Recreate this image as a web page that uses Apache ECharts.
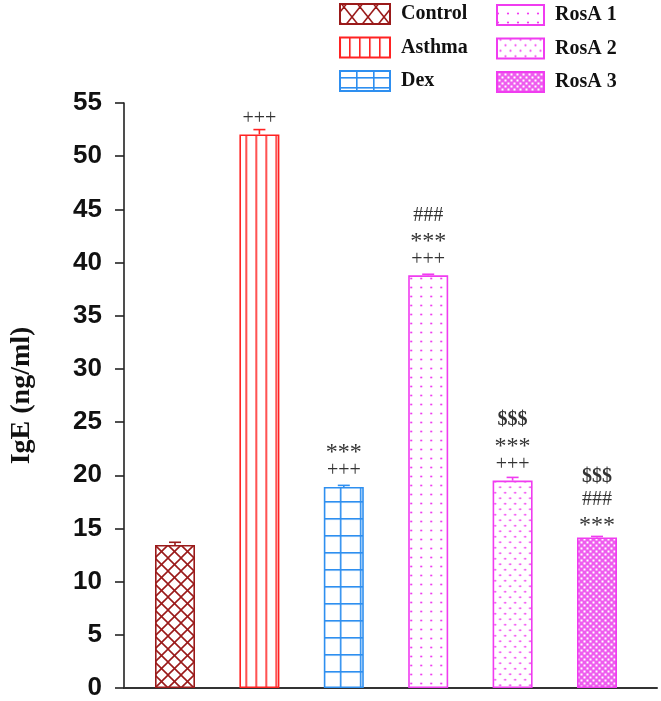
<!DOCTYPE html>
<html><head><meta charset="utf-8">
<script src="https://cdn.jsdelivr.net/npm/echarts@6/dist/echarts.min.js"></script>
<style>html,body{margin:0;padding:0;background:#fff}#c{width:661px;height:701px}</style>
</head><body><div id="c"></div>
<script>
// ---- data ----
const categories = ['Control', 'Asthma', 'Dex', 'RosA 1', 'RosA 2', 'RosA 3'];
const values = [13.45, 52.05, 18.9, 38.8, 19.5, 14.15];
const errors = [0.25, 0.45, 0.15, 0.1, 0.3, 0.1];
const annotations = ['', '+++', '***\n+++', '###\n***\n+++', '$$$\n***\n+++', '$$$\n###\n***'];
const yMin = 0, yMax = 55, yStep = 5;
const yTitle = 'IgE (ng/ml)';

// ---- styles ----
const colors = ['#9a1a1a', '#ff2222', '#2e8ff0', '#f03cf0', '#f03cf0', '#f03cf0'];

function tile(w, h, draw) {
  const c = document.createElement('canvas'); c.width = w; c.height = h;
  const g = c.getContext('2d'); draw(g, w, h); return c;
}
function crossTile(col, w, h) {
  return tile(w, h, (g) => {
    g.strokeStyle = col; g.lineWidth = 1.6;
    for (const dx of [-w, 0, w]) {
      g.beginPath(); g.moveTo(dx, 0); g.lineTo(dx + w, h); g.stroke();
      g.beginPath(); g.moveTo(dx + w, 0); g.lineTo(dx, h); g.stroke();
    }
  });
}
function vlineTile(col, w) {
  return tile(w, 4, (g) => { g.fillStyle = col; g.fillRect(0, 0, 1.6, 4); });
}
function gridTile(col, w, h) {
  return tile(w, h, (g) => { g.fillStyle = col; g.fillRect(0, 0, 1.6, h); g.fillRect(0, 0, w, 1.6); });
}
function dotTile(col, w, h, pts, r) {
  return tile(w, h, (g) => {
    g.fillStyle = col;
    pts.forEach(p => { g.beginPath(); g.arc(p[0], p[1], r, 0, Math.PI * 2); g.fill(); });
  });
}
function checkTile(col) {
  return tile(6, 6, (g) => {
    g.fillStyle = col; g.fillRect(0, 0, 6, 6);
    g.fillStyle = '#ffffff'; g.fillRect(0.5, 0.5, 2, 2); g.fillRect(3.5, 3.5, 2, 2);
  });
}
function pat(img, x, y) { return { image: img, repeat: 'repeat', x: x, y: y }; }

const chart = echarts.init(document.getElementById('c'), null, { renderer: 'canvas' });

const gridTop = 103, gridH = 585;

function styleLine(s) {
  if (s[0] === '$') return '{d|' + s + '}';
  if (s[0] === '*') return '{a|' + s + '}';
  return '{n|' + s + '}';
}

function build(barPatterns, legendPatterns) {
  const series = categories.map((name, i) => ({
    name: name,
    type: 'bar',
    xAxisIndex: 1, yAxisIndex: 1,
    barWidth: 40, barGap: '-100%',
    data: categories.map((c, j) => j === i ? values[j] : '-'),
    itemStyle: { color: barPatterns ? barPatterns[i] : '#fff', borderColor: colors[i], borderWidth: 1.6 },
    label: {
      show: annotations[i] !== '', position: 'top', distance: 5,
      formatter: () => annotations[i].split('\n').map(styleLine).join('\n'),
      rich: {
        n: { fontFamily: 'Liberation Serif', fontSize: 20, color: '#333', lineHeight: 22 },
        a: { fontFamily: 'Liberation Serif', fontSize: 24, color: '#333', lineHeight: 22, padding: [8, 0, 0, 0] },
        d: { fontFamily: 'Liberation Serif', fontSize: 20, fontWeight: 'bold', color: '#333', lineHeight: 24 }
      }
    },
    z: 3
  }));
  series.push({
    type: 'custom', xAxisIndex: 1, yAxisIndex: 1, z: 4,
    data: categories.map((c, i) => [i, values[i], errors[i]]),
    renderItem: (params, api) => {
      const i = api.value(0), v = api.value(1), e = api.value(2);
      const p0 = api.coord([i, v]), p1 = api.coord([i, v + e]);
      const st = { stroke: colors[params.dataIndex], lineWidth: 1.6 };
      return { type: 'group', children: [
        { type: 'line', shape: { x1: p0[0], y1: p0[1], x2: p1[0], y2: p1[1] }, style: st },
        { type: 'line', shape: { x1: p1[0] - 6, y1: p1[1], x2: p1[0] + 6, y2: p1[1] }, style: st }
      ] };
    }
  });
  const legendCommon = {
    orient: 'vertical', icon: 'rect', itemGap: 11.5, itemHeight: 20, padding: 0,
    textStyle: { fontFamily: 'Liberation Serif', fontWeight: 'bold', fontSize: 20, color: '#111', padding: [0, 0, 0, 6] },
    selectedMode: false
  };
  return {
    backgroundColor: '#fff',
    animation: false,
    legend: [
      Object.assign({}, legendCommon, { left: 339, top: 3, itemWidth: 50,
        data: categories.slice(0, 3).map((n, k) => legendPatterns ? { name: n, itemStyle: { color: legendPatterns[k] } } : n) }),
      Object.assign({}, legendCommon, { left: 496, top: 4, itemWidth: 47,
        data: categories.slice(3).map((n, k) => legendPatterns ? { name: n, itemStyle: { color: legendPatterns[k + 3] } } : n) })
    ],
    grid: [
      { left: 120, width: 537, top: gridTop, height: gridH },
      { left: 132.8, width: 506.4, top: gridTop, height: gridH }
    ],
    xAxis: [
      { gridIndex: 0, type: 'value', min: 0, max: 1, axisLine: { show: true, lineStyle: { color: '#333', width: 2 } },
        axisTick: { show: false }, axisLabel: { show: false }, splitLine: { show: false } },
      { gridIndex: 1, type: 'category', data: categories, show: false }
    ],
    yAxis: [
      { gridIndex: 0, type: 'value', min: yMin, max: yMax, interval: yStep,
        name: yTitle, nameLocation: 'middle', nameGap: 88,
        nameTextStyle: { fontFamily: 'Liberation Serif', fontWeight: 'bold', fontSize: 28, color: '#111' },
        axisLine: { show: true, lineStyle: { color: '#222', width: 1.6 } },
        axisTick: { show: true, inside: false, length: 9, lineStyle: { color: '#222', width: 1.6 } },
        axisLabel: { fontFamily: 'Liberation Sans', fontWeight: 'bold', fontSize: 26, color: '#111', margin: 22 },
        splitLine: { show: false } },
      { gridIndex: 1, type: 'value', min: yMin, max: yMax, show: false, splitLine: { show: false } }
    ],
    series: series
  };
}

chart.setOption(build(null, null));

// align patterns to each bar using the library's own coordinates
const y0 = chart.convertToPixel({ yAxisIndex: 1 }, 0);
const lefts = categories.map((c, i) => chart.convertToPixel({ xAxisIndex: 1 }, i) - 20);
const barPatterns = [
  pat(crossTile(colors[0], 13, 13), lefts[0], y0),
  pat(vlineTile(colors[1], 10), lefts[1] + 6, 0),
  pat(gridTile(colors[2], 20, 17), lefts[2] + 16, y0),
  pat(dotTile(colors[3], 10, 9, [[5, 4.5]], 1.1), lefts[3] - 2, y0),
  pat(dotTile(colors[4], 10, 11, [[2.5, 2.75], [7.5, 8.25]], 1.1), lefts[4], y0),
  pat(checkTile('#ee5cee'), lefts[5], y0)
];
const legendPatterns = [
  pat(crossTile(colors[0], 16, 20), 339 + 1, 3),
  pat(vlineTile(colors[1], 10), 339, 0),
  pat(gridTile(colors[2], 17, 10), 339, 66 + 0),
  pat(dotTile(colors[3], 10, 9, [[5, 4.5]], 1.1), 496, 4),
  pat(dotTile(colors[4], 10, 11, [[2.5, 2.75], [7.5, 8.25]], 1.1), 496, 4),
  pat(checkTile('#ee5cee'), 496, 4)
];
chart.setOption(build(barPatterns, legendPatterns), true);
</script>
</body></html>
